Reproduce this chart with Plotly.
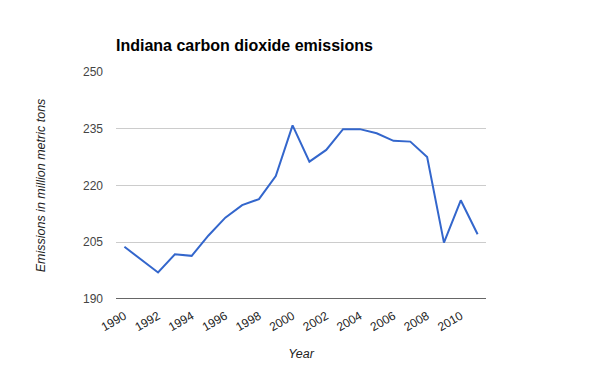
import plotly.graph_objects as go

years = list(range(1990, 2012))
emissions = [203.8, 200.4, 197.0, 201.8, 201.4, 206.8, 211.5, 214.8, 216.4, 222.5,
             235.9, 226.3, 229.4, 234.9, 234.9, 233.8, 231.8, 231.6, 227.5, 204.9,
             216.1, 207.1]
y_ticks = [190, 205, 220, 235, 250]
x_ticks = list(range(1990, 2012, 2))

# page body has an 8px default margin, so the figure is 592x363 and offsets are shifted
W, H = 592, 363
fig = go.Figure()
fig.add_trace(go.Scatter(x=years, y=emissions, mode="lines",
                         line=dict(color="#3366cc", width=2), hoverinfo="x+y"))

fig.update_layout(
    width=W, height=H,
    margin=dict(l=108, r=114, t=64, b=72, autoexpand=False),
    paper_bgcolor="white", plot_bgcolor="white",
    showlegend=False,
    font=dict(family="Liberation Sans, Arial, sans-serif", size=12, color="#444444"),
    title=dict(text="<b>Indiana carbon dioxide emissions</b>", x=108/W, xanchor="left",
               y=1 - 37/H, yanchor="middle", automargin=False,
               font=dict(family="Liberation Sans, Arial, sans-serif", size=16, color="#000000")),
    xaxis=dict(range=[1989.5, 2011.5], tickvals=x_ticks, ticktext=[str(t) for t in x_ticks],
               tickangle=-30, showgrid=False, zeroline=False, showline=False, ticks="",
               automargin=False, ticklabelstandoff=7,
               tickfont=dict(size=12, color="#222222"),
               title=dict(text="<i>Year</i>", font=dict(size=12.5, color="#222222"), standoff=16)),
    yaxis=dict(range=[190, 250], tickvals=y_ticks, showgrid=True, gridcolor="#cccccc",
               gridwidth=1, zeroline=False, showline=False, ticks="",
               automargin=False, ticklabelstandoff=12,
               tickfont=dict(size=12, color="#444444"),
               title=dict(text="<i>Emissions in million metric tons</i>",
                          font=dict(size=12.5, color="#222222"), standoff=34)),
)
fig.add_shape(type="line", xref="paper", yref="y", x0=0, x1=1, y0=190, y1=190,
              line=dict(color="#333333", width=1.5))

fig.write_html("out.html")
